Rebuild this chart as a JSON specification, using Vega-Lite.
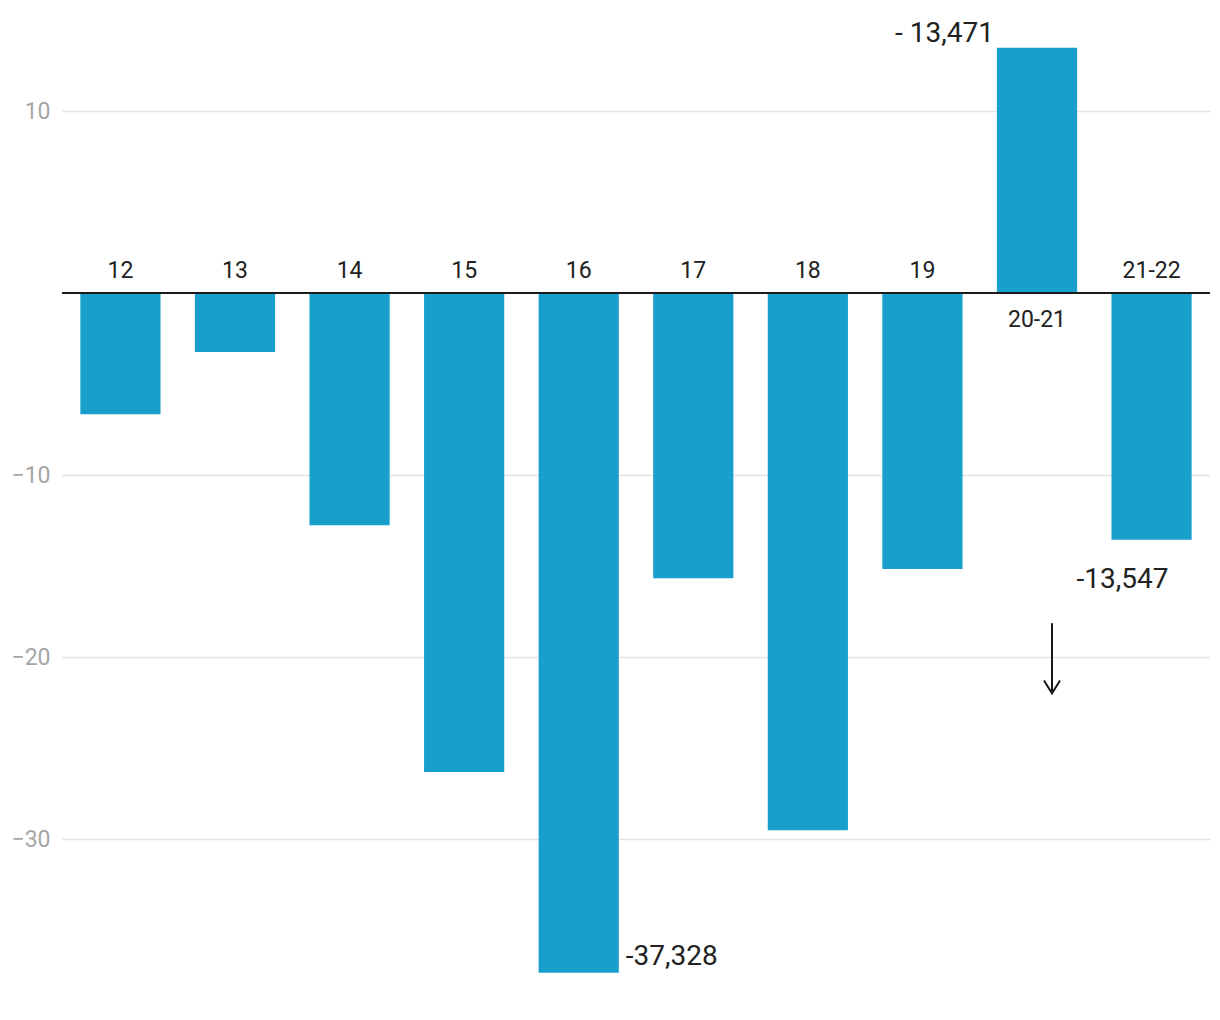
{
  "$schema": "https://vega.github.io/schema/vega-lite/v6.json",
  "width": 1148,
  "height": 974,
  "autosize": "none",
  "padding": {"left": 62, "top": 20, "right": 10, "bottom": 26},
  "background": "white",
  "config": {"view": {"stroke": null}, "font": "Roboto"},
  "datasets": {
    "bars": [
      {"cat": "12", "value": -6.65},
      {"cat": "13", "value": -3.24},
      {"cat": "14", "value": -12.75},
      {"cat": "15", "value": -26.3},
      {"cat": "16", "value": -37.328},
      {"cat": "17", "value": -15.66},
      {"cat": "18", "value": -29.5},
      {"cat": "19", "value": -15.16},
      {"cat": "20-21", "value": 13.471},
      {"cat": "21-22", "value": -13.547}
    ],
    "arrow": [
      {"cat": "20-21", "from": -18.13, "to": -21.98}
    ]
  },
  "layer": [
    {
      "data": {"name": "bars"},
      "mark": {"type": "bar", "color": "#199fcc"},
      "encoding": {
        "x": {
          "field": "cat", "type": "nominal", "sort": null,
          "scale": {"domain": ["12","13","14","15","16","17","18","19","20-21","21-22"], "paddingInner": 0.3, "paddingOuter": 0.16},
          "axis": null
        },
        "y": {
          "field": "value", "type": "quantitative",
          "scale": {"domain": [-38.5, 15], "nice": false, "zero": false},
          "axis": {
            "values": [10, -10, -20, -30],
            "title": null,
            "domain": false,
            "ticks": false,
            "labelPadding": 12,
            "labelFontSize": 23,
            "labelColor": "#a6a6a6",
            "labelFont": "Roboto",
            "gridColor": "#e3e3e3",
            "gridWidth": 1.5
          }
        }
      }
    },
    {
      "data": {"name": "bars"},
      "mark": {"type": "rule", "color": "#1a1a1a", "strokeWidth": 2},
      "encoding": {"y": {"datum": 0, "type": "quantitative"}}
    },
    {
      "data": {"name": "bars"},
      "transform": [{"filter": "datum.value < 0"}],
      "mark": {"type": "text", "fontSize": 23, "color": "#212121", "baseline": "alphabetic", "align": "center", "dy": -15},
      "encoding": {
        "x": {"field": "cat", "type": "nominal"},
        "y": {"datum": 0, "type": "quantitative"},
        "text": {"field": "cat"}
      }
    },
    {
      "data": {"name": "bars"},
      "transform": [{"filter": "datum.value > 0"}],
      "mark": {"type": "text", "fontSize": 23, "color": "#212121", "baseline": "alphabetic", "align": "center", "dy": 34},
      "encoding": {
        "x": {"field": "cat", "type": "nominal"},
        "y": {"datum": 0, "type": "quantitative"},
        "text": {"field": "cat"}
      }
    },
    {
      "data": {"name": "bars"},
      "transform": [{"filter": "datum.cat == '20-21'"}],
      "mark": {"type": "text", "fontSize": 28, "color": "#212121", "baseline": "alphabetic", "align": "right", "dx": -43, "dy": -6},
      "encoding": {
        "x": {"field": "cat", "type": "nominal"},
        "y": {"field": "value", "type": "quantitative"},
        "text": {"value": "- 13,471"}
      }
    },
    {
      "data": {"name": "bars"},
      "transform": [{"filter": "datum.cat == '16'"}],
      "mark": {"type": "text", "fontSize": 28, "color": "#212121", "baseline": "alphabetic", "align": "left", "dx": 47, "dy": -8},
      "encoding": {
        "x": {"field": "cat", "type": "nominal"},
        "y": {"field": "value", "type": "quantitative"},
        "text": {"value": "-37,328"}
      }
    },
    {
      "data": {"name": "bars"},
      "transform": [{"filter": "datum.cat == '21-22'"}],
      "mark": {"type": "text", "fontSize": 28, "color": "#212121", "baseline": "alphabetic", "align": "left", "dx": -75, "dy": 48},
      "encoding": {
        "x": {"field": "cat", "type": "nominal"},
        "y": {"field": "value", "type": "quantitative"},
        "text": {"value": "-13,547"}
      }
    },
    {
      "data": {"name": "arrow"},
      "mark": {"type": "rule", "color": "#1a1a1a", "strokeWidth": 2, "xOffset": 15},
      "encoding": {
        "x": {"field": "cat", "type": "nominal"},
        "y": {"field": "from", "type": "quantitative"},
        "y2": {"field": "to"}
      }
    },
    {
      "data": {"name": "arrow"},
      "mark": {"type": "point", "shape": "M-1,-1.6L0,0L1,-1.6", "size": 256, "filled": false, "stroke": "#1a1a1a", "strokeWidth": 2, "opacity": 1, "xOffset": 15},
      "encoding": {
        "x": {"field": "cat", "type": "nominal"},
        "y": {"field": "to", "type": "quantitative"}
      }
    }
  ]
}
